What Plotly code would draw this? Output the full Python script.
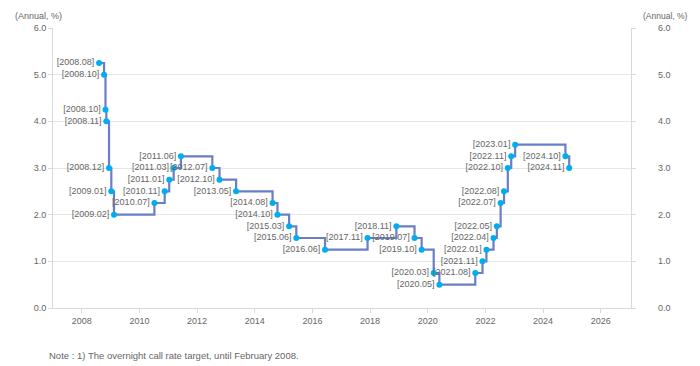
import plotly.graph_objects as go

dates = ["2008-08-07", "2008-10-09", "2008-10-27", "2008-11-07", "2008-12-11",
         "2009-01-09", "2009-02-12", "2010-07-09", "2010-11-16", "2011-01-13",
         "2011-03-10", "2011-06-10", "2012-07-12", "2012-10-11", "2013-05-09",
         "2014-08-14", "2014-10-15", "2015-03-12", "2015-06-11", "2016-06-09",
         "2017-11-30", "2018-11-30", "2019-07-18", "2019-10-16", "2020-03-17",
         "2020-05-28", "2021-08-26", "2021-11-25", "2022-01-14", "2022-04-14",
         "2022-05-26", "2022-07-13", "2022-08-25", "2022-10-12", "2022-11-24",
         "2023-01-13", "2024-10-11", "2024-11-28"]
rates = [5.25, 5.00, 4.25, 4.00, 3.00, 2.50, 2.00, 2.25, 2.50, 2.75,
         3.00, 3.25, 3.00, 2.75, 2.50, 2.25, 2.00, 1.75, 1.50, 1.25,
         1.50, 1.75, 1.50, 1.25, 0.75, 0.50, 0.75, 1.00, 1.25, 1.50,
         1.75, 2.25, 2.50, 3.00, 3.25, 3.50, 3.25, 3.00]
labels = ["[2008.08]", "[2008.10]", "[2008.10]", "[2008.11]", "[2008.12]",
          "[2009.01]", "[2009.02]", "[2010.07]", "[2010.11]", "[2011.01]",
          "[2011.03]", "[2011.06]", "[2012.07]", "[2012.10]", "[2013.05]",
          "[2014.08]", "[2014.10]", "[2015.03]", "[2015.06]", "[2016.06]",
          "[2017.11]", "[2018.11]", "[2019.07]", "[2019.10]", "[2020.03]",
          "[2020.05]", "[2021.08]", "[2021.11]", "[2022.01]", "[2022.04]",
          "[2022.05]", "[2022.07]", "[2022.08]", "[2022.10]", "[2022.11]",
          "[2023.01]", "[2024.10]", "[2024.11]"]
y_ticks = [0, 1, 2, 3, 4, 5, 6]
y_tick_text = ["0.0", "1.0", "2.0", "3.0", "4.0", "5.0", "6.0"]
axis_title = "(Annual, %)"
note = "Note : 1) The overnight call rate target, until February 2008."

FONT = "Liberation Sans"
TXT = "#666666"

fig = go.Figure()
fig.add_trace(go.Scatter(
    x=dates, y=rates, mode="lines",
    line=dict(shape="hv", color="#6a7ec6", width=2.2),
    hoverinfo="skip", showlegend=False))
fig.add_trace(go.Scatter(
    x=dates, y=rates, mode="markers+text",
    marker=dict(color="#00aeef", size=6),
    text=labels, textposition="middle left",
    textfont=dict(family=FONT, size=9, color=TXT),
    showlegend=False))
# invisible trace to activate right axis
fig.add_trace(go.Scatter(x=[dates[0]], y=[rates[0]], yaxis="y2",
                         mode="markers", marker=dict(opacity=0),
                         showlegend=False, hoverinfo="skip"))

# figure is drawn offset by the page's 8px body margin
W, H = 692, 358
L, R, T, B = 45, 623, 20, 300
MR = 20
PW = W - MR - L           # paper width in px
PH = B - T                # plot height in px
dom_end = (R - L) / PW

def px_x(x):
    return (x - L) / PW

def px_y(y):
    return (B - y) / PH

fig.update_layout(
    width=W, height=H,
    margin=dict(l=L, r=MR, t=T, b=H - B),
    paper_bgcolor="white", plot_bgcolor="white",
    font=dict(family=FONT, size=9, color=TXT),
    xaxis=dict(type="date", range=["2007-01-01", "2027-01-20"],
               domain=[0, dom_end],
               tickformat="%Y", dtick="M24", tick0="2008-01-01",
               showgrid=False, showline=True, linecolor="#d9d9d9", linewidth=1,
               ticks="outside", ticklen=4, tickcolor="#d9d9d9",
               tickfont=dict(family=FONT, size=9, color=TXT), zeroline=False),
    yaxis=dict(range=[0, 6], tickvals=y_ticks, ticktext=y_tick_text,
               showgrid=True, gridcolor="#e6e6e6", gridwidth=1,
               showline=True, linecolor="#d9d9d9", linewidth=1, mirror="ticks",
               ticks="outside", ticklen=4, tickcolor="#d9d9d9",
               tickfont=dict(family=FONT, size=9, color=TXT), zeroline=False),
    yaxis2=dict(range=[0, 6], tickvals=y_ticks, ticktext=y_tick_text,
                overlaying="y", side="right", anchor="free",
                position=px_x(649),
                showgrid=False, showline=False, ticks="", zeroline=False,
                tickfont=dict(family=FONT, size=9, color=TXT)),
    annotations=[
        dict(text=axis_title, xref="paper", yref="paper", x=px_x(5), y=px_y(8),
             xanchor="left", yanchor="middle", showarrow=False,
             font=dict(family=FONT, size=9, color=TXT)),
        dict(text=axis_title, xref="paper", yref="paper",
             x=px_x(682), y=px_y(8),
             xanchor="right", yanchor="middle", showarrow=False,
             font=dict(family=FONT, size=8.5, color=TXT)),
        dict(text=note, xref="paper", yref="paper", x=px_x(39), y=px_y(347),
             xanchor="left", yanchor="middle", showarrow=False,
             font=dict(family=FONT, size=9.5, color=TXT)),
    ],
)

fig.write_html("out.html")
